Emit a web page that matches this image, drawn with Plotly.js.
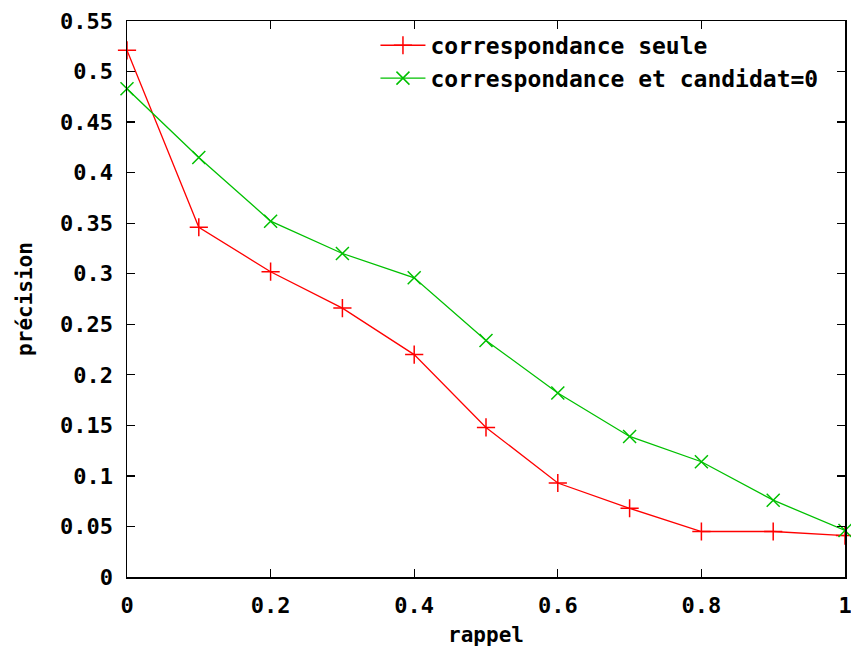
<!DOCTYPE html>
<html>
<head>
<meta charset="utf-8">
<script src="https://cdn.plot.ly/plotly-3.0.1.min.js"></script>
<style>html,body{margin:0;padding:0;background:#fff;}#chart{width:851px;height:650px;}</style>
</head>
<body>
<div id="chart"></div>
<script>
const rappel = [0, 0.1, 0.2, 0.3, 0.4, 0.5, 0.6, 0.7, 0.8, 0.9, 1.0];
const precisionSeule = [0.521, 0.346, 0.302, 0.266, 0.220, 0.148, 0.093, 0.068, 0.045, 0.045, 0.041];
const precisionCandidat = [0.483, 0.415, 0.352, 0.320, 0.296, 0.234, 0.182, 0.139, 0.114, 0.076, 0.046];
const seriesNames = ["correspondance seule", "correspondance et candidat=0"];
const xTicks = [0, 0.2, 0.4, 0.6, 0.8, 1];
const xTickLabels = ["0", "0.2", "0.4", "0.6", "0.8", "1"];
const yTicks = [0, 0.05, 0.1, 0.15, 0.2, 0.25, 0.3, 0.35, 0.4, 0.45, 0.5, 0.55];
const yTickLabels = ["0", "0.05", "0.1", "0.15", "0.2", "0.25", "0.3", "0.35", "0.4", "0.45", "0.5", "0.55"];

const fam = "DejaVu Sans Mono, monospace";
const tickFont = {family: fam, size: 22, color: "#000", weight: "bold"};
const legendFont = {family: fam, size: 23, color: "#000", weight: "bold"};
const titleFont = {family: fam, size: 21, color: "#000", weight: "bold"};

const traces = [
  {x: rappel, y: precisionSeule, name: seriesNames[0], type: "scatter", mode: "lines+markers",
   line: {color: "#ff0000", width: 1.3}, cliponaxis: false,
   marker: {symbol: "cross-thin", size: 13, color: "#ff0000", line: {color: "#ff0000", width: 1.5}}},
  {x: rappel, y: precisionCandidat, name: seriesNames[1], type: "scatter", mode: "lines+markers",
   line: {color: "#00c000", width: 1.3}, cliponaxis: false,
   marker: {symbol: "x-thin", size: 13, color: "#00c000", line: {color: "#00c000", width: 1.5}}}
];

const layout = {
  width: 851, height: 650,
  margin: {l: 127, r: 6, t: 21, b: 73},
  paper_bgcolor: "#fff", plot_bgcolor: "#fff",
  font: tickFont,
  showlegend: true,
  legend: {x: 0.97, xanchor: "right", y: 0.995, yanchor: "top", bgcolor: "rgba(0,0,0,0)",
           font: legendFont, itemwidth: 45, tracegroupgap: 0},
  xaxis: {range: [0, 1], tickvals: xTicks, ticktext: xTickLabels, showgrid: false, zeroline: false,
          showline: true, linecolor: "#000", linewidth: 1.5, mirror: "ticks",
          ticks: "inside", ticklen: 8, tickcolor: "#000", tickwidth: 1.2, ticklabelstandoff: 8,
          ticklabeloverflow: "allow",
          tickfont: tickFont, title: {text: "rappel", font: titleFont, standoff: 10}},
  yaxis: {range: [0, 0.55], tickvals: yTicks, ticktext: yTickLabels, showgrid: false, zeroline: false,
          showline: true, linecolor: "#000", linewidth: 1.5, mirror: "ticks",
          ticks: "inside", ticklen: 8, tickcolor: "#000", tickwidth: 1.2, ticklabelstandoff: 8,
          ticklabeloverflow: "allow",
          tickfont: tickFont, title: {text: "précision", font: titleFont, standoff: 22}}
};

Plotly.newPlot("chart", traces, layout, {displayModeBar: false, staticPlot: true});
</script>
</body>
</html>
